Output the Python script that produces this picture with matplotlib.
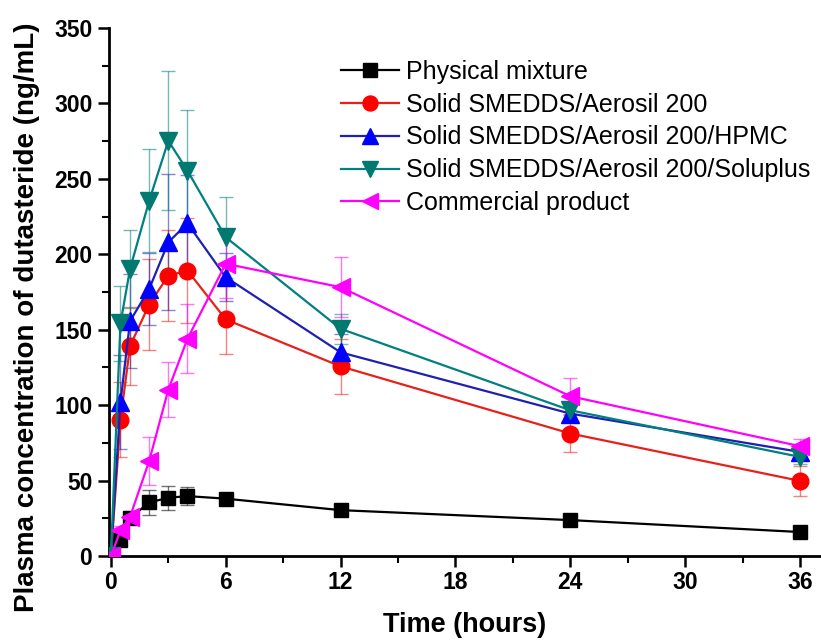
import matplotlib
matplotlib.use("Agg")
import matplotlib.pyplot as plt
from matplotlib.ticker import MultipleLocator

plt.rcParams['font.family'] = ['Liberation Sans', 'DejaVu Sans']

times = [0, 0.5, 1, 2, 3, 4, 6, 12, 24, 36]

physical = [0, 10.6, 25, 35.5, 38.6, 39.7, 38, 30.4, 23.8, 15.9]
physical_err = [0, 2, 3, 8, 8, 6, 3, 3, 3, 3]

aerosil = [0, 90.4, 139.2, 166.7, 185.9, 189.2, 156.8, 125.7, 81.2, 49.8]
aerosil_err = [0, 25, 26, 30, 30, 35, 23, 18, 12, 10]

hpmc = [0, 102, 155.7, 177, 208, 220.5, 184.8, 135, 94.4, 69]
hpmc_err = [0, 31, 31, 24, 45, 32, 16, 12, 5, 5]

soluplus = [0, 154.3, 190.3, 235.5, 275.2, 255.4, 211.3, 150.6, 96.6, 65.7]
soluplus_err = [0, 25, 26, 34, 46, 40, 27, 10, 5, 5]

commercial = [0, 17, 26, 63, 110.3, 144, 193.7, 178.2, 105.9, 72.8]
commercial_err = [0, 3, 4, 16, 18, 23, 23, 20, 12, 5]

labels = ["Physical mixture", "Solid SMEDDS/Aerosil 200",
          "Solid SMEDDS/Aerosil 200/HPMC", "Solid SMEDDS/Aerosil 200/Soluplus",
          "Commercial product"]

series = [
    (physical, physical_err, 's', 'black', 'black', 10.5),
    (aerosil, aerosil_err, 'o', '#e8201a', '#ff0000', 12),
    (hpmc, hpmc_err, '^', '#2020b0', '#0000ff', 13),
    (soluplus, soluplus_err, 'v', '#008080', '#007a70', 13),
    (commercial, commercial_err, '<', '#ff00ff', '#ff00ff', 13),
]

fig = plt.figure(figsize=(8.21, 6.41), dpi=100)
ax = fig.add_axes([109/821, (641-556)/641, 1 - 109/821, (556-28)/641])

handles = []
for (vals, err, mk, lc, mc, ms), lab in zip(series, labels):
    ax.errorbar(times, vals, yerr=err, fmt='none', ecolor=lc, elinewidth=1.0,
                capsize=5, capthick=1.0, alpha=0.55, zorder=2)
    h, = ax.plot(times, vals, color=lc, lw=1.6, marker=mk, markersize=ms,
                 markerfacecolor=mc, markeredgecolor=mc, label=lab, zorder=3)
    handles.append(h)

ax.set_xlim(-0.1, 37.1)
ax.set_ylim(0, 350)
ax.xaxis.set_major_locator(MultipleLocator(6))
ax.xaxis.set_minor_locator(MultipleLocator(3))
ax.yaxis.set_major_locator(MultipleLocator(50))
ax.yaxis.set_minor_locator(MultipleLocator(25))

for s in ['top', 'right']:
    ax.spines[s].set_visible(False)
for s in ['left', 'bottom']:
    ax.spines[s].set_linewidth(2)

ax.tick_params(which='major', direction='out', length=8, width=1.8, labelsize=16.5, pad=4)
ax.tick_params(axis='x', which='major', pad=3)
ax.tick_params(which='minor', direction='out', length=5, width=1.5)
for lbl in ax.get_xticklabels() + ax.get_yticklabels():
    lbl.set_fontweight('bold')

ax.set_xlabel("Time (hours)", fontsize=19.5, fontweight='bold')
ax.set_ylabel("Plasma concentration of dutasteride (ng/mL)", fontsize=20,
              fontweight='bold')
ax.xaxis.set_label_coords(0.5, (556 - 612) / 528)
ax.yaxis.set_label_coords((40 - 109) / 712, (556 - 317) / 528)

fig.legend(handles=handles, loc='upper left', bbox_to_anchor=(341/821, 1 - 60/641),
           bbox_transform=fig.transFigure, frameon=False, fontsize=18,
           handlelength=2.3, handletextpad=0.3, labelspacing=0.35, borderpad=0,
           borderaxespad=0, markerscale=0.9)

fig.savefig("out.png", dpi=100)
